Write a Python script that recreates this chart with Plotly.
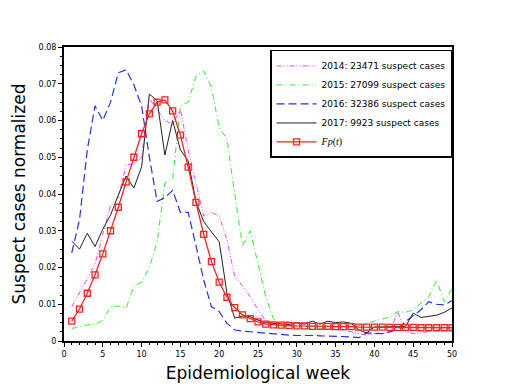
import plotly.graph_objects as go

weeks = list(range(1, 51))

cases_2014 = [0.0093, 0.013, 0.017, 0.021, 0.029, 0.037, 0.039, 0.048, 0.048, 0.050,
              0.066, 0.063, 0.060, 0.059, 0.063, 0.052, 0.043, 0.034, 0.035, 0.034,
              0.0275, 0.0175, 0.015, 0.012, 0.0085, 0.0055, 0.0048, 0.005, 0.0053, 0.0048,
              0.0043, 0.004, 0.0038, 0.0035, 0.0033, 0.003, 0.0025, 0.002, 0.0016, 0.002,
              0.002, 0.0025, 0.008, 0.0025, 0.002, 0.0022, 0.0027, 0.003, 0.003, 0.003]

cases_2015 = [0.0034, 0.004, 0.0044, 0.0045, 0.0057, 0.0093, 0.0095, 0.0089, 0.015, 0.016,
              0.020, 0.027, 0.043, 0.044, 0.064, 0.065, 0.072, 0.0735, 0.069, 0.058,
              0.055, 0.040, 0.026, 0.030, 0.021, 0.012, 0.006, 0.004, 0.0038, 0.0035,
              0.0033, 0.0035, 0.0033, 0.0034, 0.0035, 0.0038, 0.004, 0.0042, 0.0048, 0.0055,
              0.006, 0.0065, 0.008, 0.0078, 0.0085, 0.0103, 0.012, 0.0166, 0.0107, 0.0143]

cases_2016 = [0.024, 0.033, 0.052, 0.064, 0.060, 0.065, 0.073, 0.0738, 0.0697, 0.064,
              0.050, 0.038, 0.039, 0.041, 0.035, 0.035, 0.026, 0.0166, 0.0093, 0.008,
              0.0048, 0.003, 0.0027, 0.0025, 0.0024, 0.002, 0.0018, 0.0017, 0.0016, 0.0015,
              0.0016, 0.0015, 0.0014, 0.0014, 0.0013, 0.0012, 0.0011, 0.0009, 0.0022, 0.002,
              0.002, 0.0025, 0.0032, 0.0053, 0.007, 0.0085, 0.0107, 0.010, 0.0098, 0.011]

cases_2017 = [0.0272, 0.025, 0.0293, 0.0257, 0.0304, 0.0343, 0.0397, 0.0449, 0.0416, 0.0474,
              0.0672, 0.0654, 0.0506, 0.060, 0.052, 0.049, 0.038, 0.0325, 0.0297, 0.027,
              0.013, 0.0062, 0.0068, 0.0066, 0.0057, 0.005, 0.0048, 0.0046, 0.0045, 0.005,
              0.0046, 0.0054, 0.0046, 0.0054, 0.005, 0.0052, 0.0048, 0.003, 0.0022, 0.0038,
              0.0039, 0.0039, 0.0039, 0.0039, 0.0076, 0.0064, 0.0068, 0.007, 0.0078, 0.009]

fp_t = [0.0054, 0.0087, 0.013, 0.018, 0.0237, 0.030, 0.0364, 0.0433, 0.050, 0.0564,
        0.0618, 0.065, 0.0656, 0.0626, 0.056, 0.0473, 0.0377, 0.029, 0.0216, 0.016,
        0.0119, 0.0091, 0.0071, 0.0061, 0.0052, 0.0046, 0.0044, 0.0043, 0.0042, 0.0041,
        0.0041, 0.004, 0.004, 0.004, 0.0039, 0.0039, 0.0039, 0.0038, 0.0038, 0.0038,
        0.0038, 0.0037, 0.0037, 0.0037, 0.0037, 0.0036, 0.0036, 0.0036, 0.0036, 0.0036]

x_ticks = list(range(0, 51, 5))
y_ticks = [0, 0.01, 0.02, 0.03, 0.04, 0.05, 0.06, 0.07, 0.08]
y_tick_labels = ["0", "0.01", "0.02", "0.03", "0.04", "0.05", "0.06", "0.07", "0.08"]

fig = go.Figure()

fig.add_trace(go.Scatter(
    x=weeks, y=cases_2014, mode="lines", name="2014: 23471 suspect cases",
    line=dict(color="#ff44ff", width=1, dash="5px,2px,1px,2px,1px,2px")
))
fig.add_trace(go.Scatter(
    x=weeks, y=cases_2015, mode="lines", name="2015: 27099 suspect cases",
    line=dict(color="#33ee33", width=1, dash="6px,3px,1px,3px")
))
fig.add_trace(go.Scatter(
    x=weeks, y=cases_2016, mode="lines", name="2016: 32386 suspect cases",
    line=dict(color="#2233ee", width=1.2, dash="8px,4px")
))
fig.add_trace(go.Scatter(
    x=weeks, y=cases_2017, mode="lines", name="2017: 9923 suspect cases",
    line=dict(color="#222222", width=1)
))
fig.add_trace(go.Scatter(
    x=weeks, y=fp_t, mode="lines+markers",
    name="<span style='font-family:Liberation Serif;font-size:10px'><i>Fp</i>(<i>t</i>)</span>",
    line=dict(color="#ff2222", width=1.3),
    marker=dict(symbol="square-open", size=6, color="#ff2222", line=dict(width=1.3))
))

# page body adds an 8px margin, so the figure is drawn 8px smaller
fig.update_layout(
    width=510, height=382,
    paper_bgcolor="white", plot_bgcolor="white",
    margin=dict(l=56, r=66, t=39, b=49, autoexpand=False),
    font=dict(family="DejaVu Sans", color="black"),
    showlegend=True,
    legend=dict(
        x=0.531, y=0.99, xanchor="left", yanchor="top",
        bgcolor="white", bordercolor="black", borderwidth=1.5,
        font=dict(size=9), tracegroupgap=0, itemwidth=40,
    ),
)

fig.update_xaxes(
    range=[0, 50], tickvals=x_ticks, automargin=False,
    showline=True, linecolor="black", linewidth=2, mirror=True,
    ticks="outside", ticklen=4, tickcolor="black",
    minor=dict(ticks="outside", ticklen=2, dtick=1, tickcolor="black"),
    showgrid=False, zeroline=False,
    tickfont=dict(size=8),
    title=dict(text="Epidemiological week", font=dict(size=17), standoff=10),
)
fig.update_yaxes(
    range=[0, 0.08], tickvals=y_ticks, ticktext=y_tick_labels, automargin=False,
    showline=True, linecolor="black", linewidth=2, mirror=True,
    ticks="outside", ticklen=4, tickcolor="black",
    minor=dict(ticks="outside", ticklen=2, dtick=0.0025, tickcolor="black"),
    showgrid=False, zeroline=False,
    tickfont=dict(size=8),
    title=dict(text="Suspect cases normalized", font=dict(size=17), standoff=9),
)

fig.write_html("out.html")
